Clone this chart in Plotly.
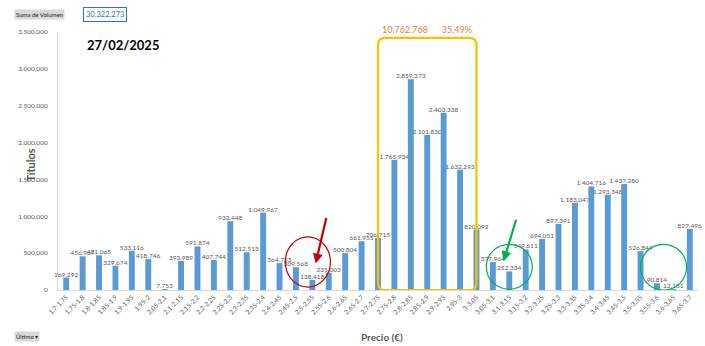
import plotly.graph_objects as go

categories = ["1,7-1,75", "1,75-1,8", "1,8-1,85", "1,85-1,9", "1,9-1,95", "1,95-2",
              "2,05-2,1", "2,1-2,15", "2,15-2,2", "2,2-2,25", "2,25-2,3", "2,3-2,35",
              "2,35-2,4", "2,4-2,45", "2,45-2,5", "2,5-2,55", "2,55-2,6", "2,6-2,65",
              "2,65-2,7", "2,7-2,75", "2,75-2,8", "2,8-2,85", "2,85-2,9", "2,9-2,95",
              "2,95-3", "3-3,05", "3,05-3,1", "3,1-3,15", "3,15-3,2", "3,2-3,25",
              "3,25-3,3", "3,3-3,35", "3,35-3,4", "3,4-3,45", "3,45-3,5", "3,5-3,55",
              "3,55-3,6", "3,6-3,65", "3,65-3,7"]
volumen = [169292, 456969, 471065, 329674, 533116, 418746,
           7753, 393989, 591874, 407744, 932448, 512513,
           1049967, 364753, 309568, 138418, 235003, 500804,
           661955, 706715, 1765934, 2859373, 2101830, 2403338,
           1632293, 820092, 377964, 252334, 549611, 694051,
           897391, 1183047, 1404716, 1293348, 1437280, 526844,
           90814, 12151, 827496]
ytick_vals = [0, 500000, 1000000, 1500000, 2000000, 2500000, 3000000, 3500000]

total = sum(volumen)
zona = volumen[20:25]
zona_sum = sum(zona)
zona_pct = zona_sum / total * 100

def fmt(n):
    return f"{n:,}".replace(",", ".")

FONT = "Lato"
GREY = "#595959"

L, R, T, B = 58, 7, 32, 56
W, H = 705, 346
PW, PH = W - L - R, H - T - B

def px(x):
    return (x - L) / PW

def py(y):
    return (H - B - y) / PH

fig = go.Figure()
fig.add_trace(go.Bar(
    x=categories, y=volumen,
    marker=dict(color="#5B9BD5", line=dict(width=0)),
    text=[fmt(v) for v in volumen],
    textposition="outside",
    constraintext="none",
    textfont=dict(size=6.5, color=GREY, family=FONT),
    cliponaxis=False,
))

bx0, bx1, by0, by1 = 19, 25, 0, 3420000
rx, ry = 0.45, 100000
box_path = (f"M {bx0+rx},{by0} L {bx1-rx},{by0} Q {bx1},{by0} {bx1},{by0+ry} "
            f"L {bx1},{by1-ry} Q {bx1},{by1} {bx1-rx},{by1} L {bx0+rx},{by1} "
            f"Q {bx0},{by1} {bx0},{by1-ry} L {bx0},{by0+ry} Q {bx0},{by0} {bx0+rx},{by0} Z")

shapes = [
    dict(type="path", xref="x", yref="y", path=box_path,
         line=dict(color="#FFC000", width=2.2), fillcolor="rgba(0,0,0,0)", layer="above"),
    dict(type="circle", xref="x", yref="y", x0=13.35, x1=16.1, y0=40000, y1=720000,
         line=dict(color="#C00000", width=1.2)),
    dict(type="circle", xref="x", yref="y", x0=25.6, x1=28.4, y0=10000, y1=620000,
         line=dict(color="#00B050", width=1.2)),
    dict(type="circle", xref="x", yref="y", x0=35.0, x1=37.8, y0=0, y1=620000,
         line=dict(color="#00B050", width=1.2)),
]

annotations = [
    dict(x=15.2, y=360000, xref="x", yref="y", ax=11, ay=-47,
         showarrow=True, arrowhead=2, arrowsize=0.9, arrowwidth=2.2, arrowcolor="#C00000", text=""),
    dict(x=26.65, y=390000, xref="x", yref="y", ax=13, ay=-43,
         showarrow=True, arrowhead=2, arrowsize=0.9, arrowwidth=2.2, arrowcolor="#00B050", text=""),
    dict(x=22, y=by1, xref="x", yref="y", yanchor="bottom", yshift=1, showarrow=False,
         text=fmt(zona_sum) + "&nbsp;&nbsp;&nbsp;&nbsp;&nbsp;&nbsp;" + f"{zona_pct:.2f}".replace(".", ",") + "%",
         font=dict(size=9, color="#ED7D31", family=FONT)),
    dict(x=px(85), y=py(45), xref="paper", yref="paper", xanchor="left", yanchor="middle",
         showarrow=False, text="<b>27/02/2025</b>", font=dict(size=13, color="#000000", family=FONT)),
    dict(x=px(382), y=py(337), xref="paper", yref="paper", yanchor="middle",
         showarrow=False, text="<b>Precio (€)</b>", font=dict(size=10, color=GREY, family=FONT)),
    dict(x=px(21), y=py(165), xref="paper", yref="paper", textangle=-90,
         showarrow=False, text="<b>Títulos</b>", font=dict(size=11, color=GREY, family=FONT)),
    dict(x=px(14), y=py(14), xref="paper", yref="paper", xanchor="left", yanchor="middle",
         showarrow=False, text="Suma de Volumen", bgcolor="#D9D9D9", borderpad=1,
         font=dict(size=6, color="#262626", family=FONT)),
    dict(x=px(105), y=py(14), xref="paper", yref="paper", xanchor="center", yanchor="middle",
         showarrow=False, text=fmt(total), bgcolor="#FFFFFF", bordercolor="#2E75B6", borderwidth=1,
         borderpad=2, font=dict(size=7.5, color="#2E75B6", family=FONT)),
    dict(x=px(14), y=py(336), xref="paper", yref="paper", xanchor="left", yanchor="middle",
         showarrow=False, text="Último ▾", bgcolor="#D9D9D9", borderpad=1,
         font=dict(size=6, color="#262626", family=FONT)),
]

fig.update_layout(
    width=W, height=H,
    margin=dict(l=L, r=R, t=T, b=B),
    paper_bgcolor="white", plot_bgcolor="white",
    separators=",.",
    bargap=0.64,
    showlegend=False,
    font=dict(family=FONT, color=GREY),
    shapes=shapes,
    annotations=annotations,
    xaxis=dict(type="category", range=[-0.5, 38.5], tickangle=-45,
               tickfont=dict(size=6.5, color=GREY, family=FONT),
               showline=True, linecolor="#D9D9D9", linewidth=1, ticks="",
               showgrid=False),
    yaxis=dict(range=[0, 3500000], tickvals=ytick_vals,
               ticktext=[fmt(v) for v in ytick_vals],
               tickfont=dict(size=6.5, color=GREY, family=FONT),
               showline=True, linecolor="#D9D9D9", linewidth=1, showgrid=False,
               zeroline=False, ticks="", ticklabelstandoff=8),
)

fig.write_html("out.html")
